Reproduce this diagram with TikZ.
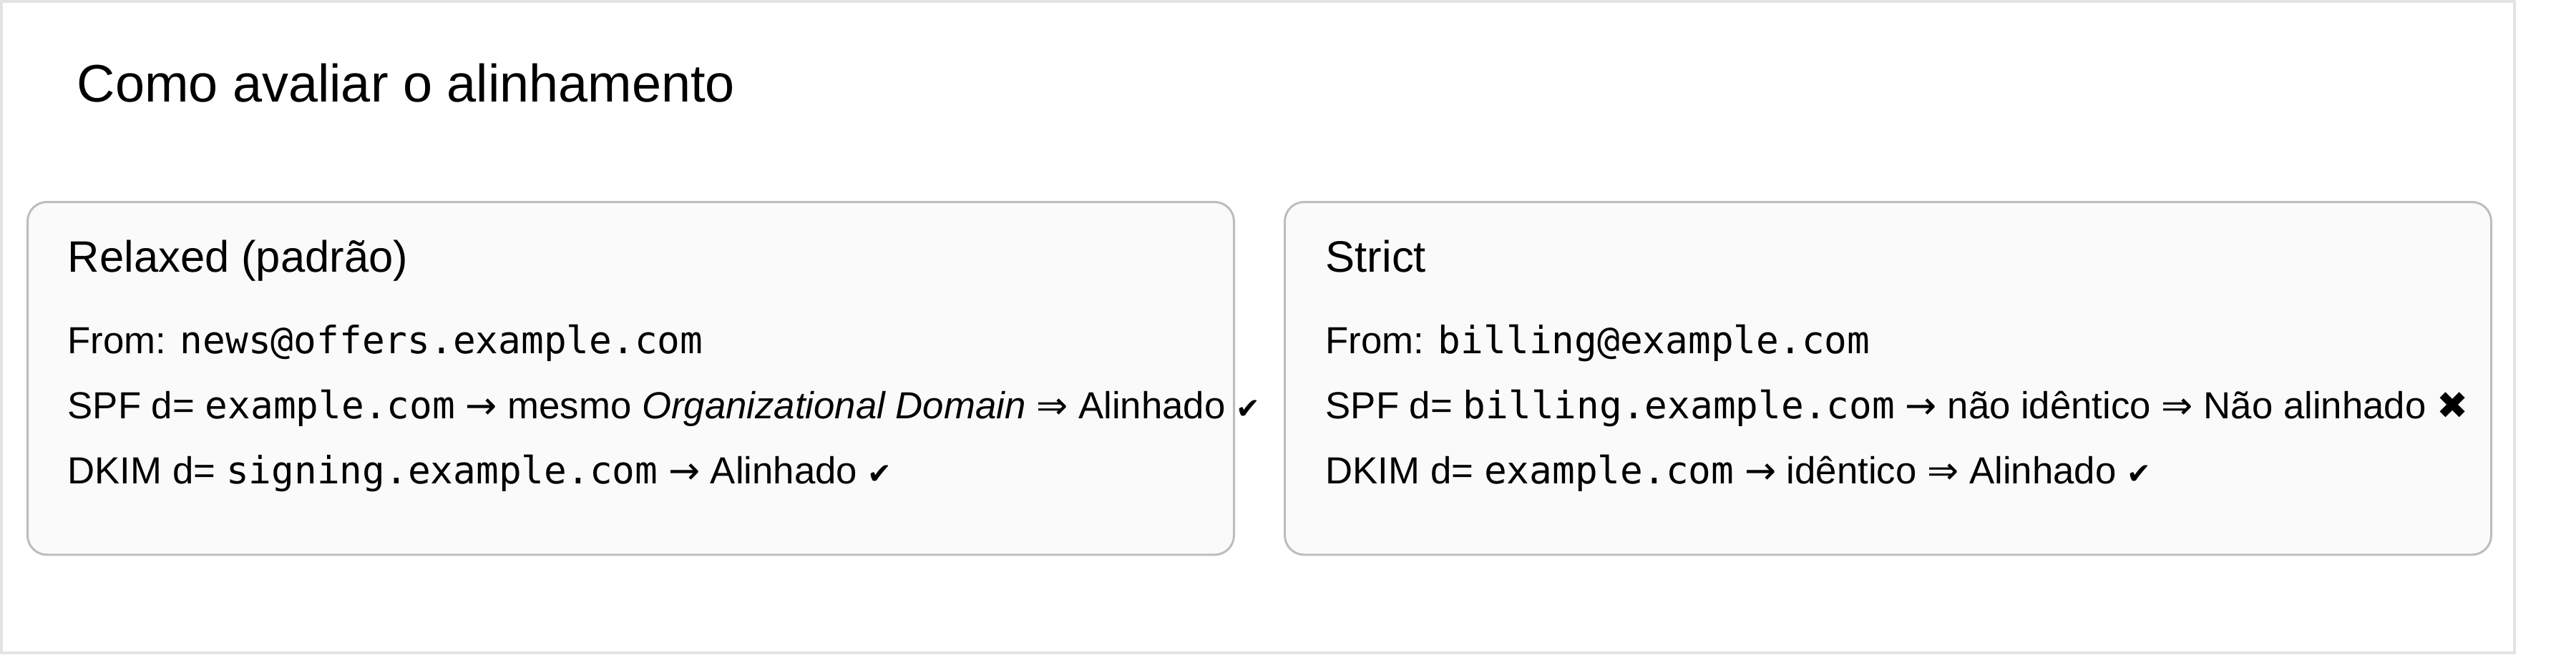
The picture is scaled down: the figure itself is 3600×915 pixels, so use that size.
\documentclass[tikz,border=0pt]{standalone}
\usepackage{fontspec}
\setmainfont{Liberation Sans}
\setmonofont{DejaVu Sans Mono}
\newfontfamily\symbfont{DejaVu Sans}
\usetikzlibrary{positioning}
\definecolor{panelfill}{HTML}{FAFAFA}
\definecolor{paneledge}{HTML}{BDBDBD}
\definecolor{frameedge}{HTML}{E3E3E3}
\newcommand{\tto}{{\symbfont →}}
\newcommand{\tTo}{{\symbfont ⇒}}
\newcommand{\okmark}{{\symbfont\fontsize{11.5}{12}\selectfont ✔}}
\newcommand{\badmark}{{\symbfont ✖}}

\begin{document}
\begin{tikzpicture}[x=0.01cm,y=-0.01cm,
  panel/.style={draw=paneledge,fill=panelfill,line width=0.03cm,rounded corners=0.27cm,
    anchor=north west,minimum width=16.85cm,minimum height=4.93cm,inner sep=0pt},
  boxhead/.style={anchor=base west,inner sep=0pt,font=\fontsize{17.5}{21}\selectfont},
  rowtext/.style={anchor=base west,inner sep=0pt,font=\fontsize{15}{18}\selectfont}]
\useasboundingbox (0,0) rectangle (3600,915);
\draw[frameedge,line width=0.04cm] (2,2) rectangle (3514,913);

\node[anchor=base west,inner sep=0pt,font=\fontsize{21}{25}\selectfont] (title) at (107,142) {Como avaliar o alinhamento};

% relaxed
\node[panel] (relaxed) at (37,281) {};
\node[boxhead] (relaxedhead) at (94,380) {Relaxed (padrão)};
\node[rowtext] (relaxedfrom) at (94,494) {From: \texttt{news@offers.example.com}};
\node[rowtext] (relaxedspf) at (94,585) {SPF d= \texttt{example.com} \tto{} mesmo \textit{Organizational Domain} \tTo{} Alinhado \okmark};
\node[rowtext] (relaxeddkim) at (94,676) {DKIM d= \texttt{signing.example.com} \tto{} Alinhado \okmark};

% strict
\node[panel] (strict) at (1794,281) {};
\node[boxhead] (stricthead) at (1852,380) {Strict};
\node[rowtext] (strictfrom) at (1852,494) {From: \texttt{billing@example.com}};
\node[rowtext] (strictspf) at (1852,585) {SPF d= \texttt{billing.example.com} \tto{} não idêntico \tTo{} Não alinhado \badmark};
\node[rowtext] (strictdkim) at (1852,676) {DKIM d= \texttt{example.com} \tto{} idêntico \tTo{} Alinhado \okmark};
\end{tikzpicture}
\end{document}
